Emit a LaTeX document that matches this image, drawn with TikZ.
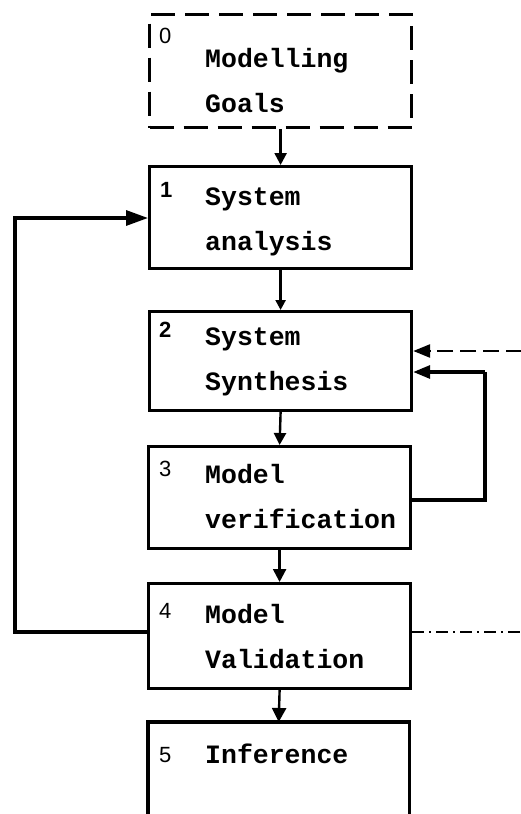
\documentclass[tikz,border=0pt]{standalone}
\usepackage{fontspec}
\setmonofont{Liberation Mono}
\newfontfamily\digitfont{Liberation Sans}
\usetikzlibrary{arrows.meta}
\begin{document}
\begin{tikzpicture}[x=1pt,y=-1pt,
  box/.style={draw,line width=3.2pt,minimum width=262pt,inner sep=0pt,anchor=north west},
  ghost/.style={minimum width=261pt,inner sep=0pt,anchor=north west},
  boxline/.style={line width=3.2pt},
  dashbox/.style={box,dash pattern=on 24pt off 10pt},
  lbl/.style={anchor=base west,inner sep=0pt,font=\ttfamily\bfseries\fontsize{26.5}{30}\selectfont},
  num/.style={anchor=base west,inner sep=0pt,font=\digitfont\fontsize{22}{26}\selectfont},
  bnum/.style={num,font=\digitfont\bfseries\fontsize{22}{26}\selectfont},
  arr/.style={line width=2.4pt,-{Triangle[length=#1,width=#1]}},
  arr/.default=12pt,
  fb/.style={line width=3.2pt,-{Triangle[length=22pt,width=15pt]}},
  dfbin/.style={line width=2.6pt,dash pattern=on 16pt off 7pt},
  dfb/.style={line width=2.6pt,dash pattern=on 12pt off 5pt on 2pt off 5pt}
]
\useasboundingbox (0,0) rectangle (520,814);

% boxes
\node[dashbox,minimum height=113pt] (b0) at (148,13) {};
\node[box,minimum height=102pt] (b1) at (148,165) {};
\node[box,minimum height=99pt] (b2) at (148,310) {};
\node[box,minimum height=102pt] (b3) at (147,445) {};
\node[box,minimum height=105pt] (b4) at (147,582) {};
\node[ghost,minimum height=100pt] (b5) at (148,722) {};
\draw[boxline] (b5.south west) -- (b5.north west) -- (b5.north east) -- (b5.south east);

% numbers
\node[num] (n0) at (159,43) {0};
\node[bnum] (n1) at (160,197) {1};
\node[bnum] (n2) at (159,337) {2};
\node[num] (n3) at (159,476) {3};
\node[num] (n4) at (159,618) {4};
\node[num] (n5) at (159,762) {5};

% texts
\node[lbl] (t0a) at (205,67) {Modelling};
\node[lbl] (t0b) at (205,112) {Goals};
\node[lbl] (t1a) at (205,205) {System};
\node[lbl] (t1b) at (205,250) {analysis};
\node[lbl] (t2a) at (205,345) {System};
\node[lbl] (t2b) at (205,390) {Synthesis};
\node[lbl] (t3a) at (205,483) {Model};
\node[lbl] (t3b) at (205,528) {verification};
\node[lbl] (t4a) at (205,623) {Model};
\node[lbl] (t4b) at (205,668) {Validation};
\node[lbl] (t5a) at (205,763) {Inference};

% forward arrows
\draw[arr=12pt] (b0.south) -- (b1.north);
\draw[arr=10pt] (b1.south) -- (b2.north);
\draw[arr=12pt] (b2.south) -- (b3.north);
\draw[arr=13pt] (b3.south) -- (b4.north);
\draw[arr=14pt] (b4.south) -- (b5.north);

% feedback loops
\coordinate (L) at (15,632);
\coordinate (LT) at (15,218);
\draw[fb] (b4.west |- L) -- (L) -- (LT) -- (LT -| b1.west);

\coordinate (R) at (485,372);
\coordinate (RB) at (485,500);
\draw[boxline] (b3.east |- RB) -- (RB) -- (R);
\draw[fb,-{Triangle[length=17pt,width=13pt]}] (R) -- (R -| b2.east);

\coordinate (Din) at (522,351);
\draw[dfbin,-{Triangle[length=17pt,width=13pt]}] (Din) -- (Din -| b2.east);
\coordinate (Dout) at (522,632);
\draw[dfb] (b4.east |- Dout) -- (Dout);
\end{tikzpicture}
\end{document}
